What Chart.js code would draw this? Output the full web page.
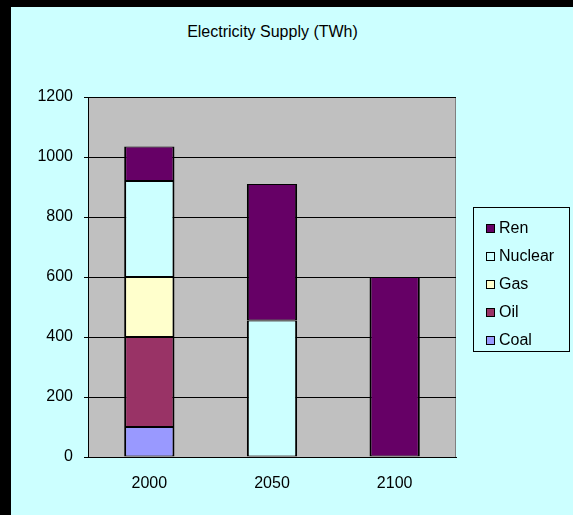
<!DOCTYPE html>
<html>
<head>
<meta charset="utf-8">
<script src="https://cdn.jsdelivr.net/npm/chart.js@4/dist/chart.umd.min.js"></script>
<style>
  html, body { margin: 0; padding: 0; background: #000; }
  body { width: 573px; height: 515px; position: relative; overflow: hidden; font-family: "Liberation Sans", Arial, sans-serif; }
  #panel { position: absolute; left: 11px; top: 7px; width: 562px; height: 508px; background: #ccffff; }
  #wrap { position: absolute; left: 0; top: 0; width: 573px; height: 515px; }
  #title { position: absolute; left: 172px; width: 201px; top: 23px; text-align: center; font-size: 16px; color: #000; white-space: nowrap; }
  #legend { position: absolute; left: 473px; top: 207px; width: 97px; height: 145px; border: 1px solid #000; box-sizing: border-box; padding-top: 6px; }
  .item { height: 28px; display: flex; align-items: center; font-size: 16px; color: #000; }
  .sw { width: 7px; height: 7px; border: 1px solid #000; margin-left: 12px; margin-right: 4px; }
</style>
</head>
<body>
<div id="panel"></div>
<div id="title">Electricity Supply (TWh)</div>
<div id="wrap"><canvas id="chart" width="573" height="515"></canvas></div>
<div id="legend"></div>
<script>
const years = ['2000', '2050', '2100'];
const coal = [100, null, null];
const oil = [300, null, null];
const gas = [200, null, null];
const nuclear = [320, 455, null];
const ren = [115, 455, 600];
const yTicks = [0, 200, 400, 600, 800, 1000, 1200];

const series = [
    { label: 'Coal', data: coal, color: '#9999ff' },
    { label: 'Oil', data: oil, color: '#993366' },
    { label: 'Gas', data: gas, color: '#ffffcc' },
    { label: 'Nuclear', data: nuclear, color: '#ccffff' },
    { label: 'Ren', data: ren, color: '#660066' }
];

// grey plot area with a thin grey frame on top and right
const plotBg = {
    id: 'plotBg',
    beforeDraw(chart) {
        const a = chart.chartArea, ctx = chart.ctx;
        ctx.save();
        ctx.fillStyle = '#c0c0c0';
        ctx.fillRect(a.left, a.top, a.right - a.left, a.bottom - a.top);
        ctx.strokeStyle = '#808080';
        ctx.lineWidth = 1;
        ctx.beginPath();
        ctx.moveTo(a.left, a.top + 0.5);
        ctx.lineTo(a.right - 0.5, a.top + 0.5);
        ctx.lineTo(a.right - 0.5, a.bottom);
        ctx.stroke();
        ctx.restore();
    }
};

const ctx = document.getElementById('chart').getContext('2d');
new Chart(ctx, {
    type: 'bar',
    data: {
        labels: years,
        datasets: series.map(s => ({
            label: s.label,
            data: s.data,
            backgroundColor: s.color,
            borderColor: '#000',
            borderWidth: { left: 2, right: 2, top: 1, bottom: 1 },
            borderSkipped: false,
            categoryPercentage: 1,
            barPercentage: 0.41
        }))
    },
    options: {
        responsive: false,
        animation: false,
        layout: { padding: { left: 0, right: 117, top: 97, bottom: 18 } },
        plugins: {
            legend: { display: false },
            tooltip: { enabled: false }
        },
        scales: {
            x: {
                stacked: true,
                afterFit: s => { s.height = 40; },
                grid: { display: false, drawTicks: false },
                border: { color: '#000', width: 1 },
                ticks: { color: '#000', font: { family: 'Liberation Sans', size: 16 }, padding: 17 }
            },
            y: {
                stacked: true,
                min: 0,
                max: 1200,
                afterFit: s => { s.width = 88; },
                afterBuildTicks: s => { s.ticks = yTicks.map(v => ({ value: v })); },
                grid: { color: '#000', lineWidth: 1, tickLength: 4 },
                border: { color: '#000', width: 1 },
                ticks: {
                    color: '#000',
                    font: { family: 'Liberation Sans', size: 16 },
                    padding: 11,
                    callback: v => String(v)
                }
            }
        }
    },
    plugins: [plotBg]
});

const legend = document.getElementById('legend');
series.slice().reverse().forEach(s => {
    const row = document.createElement('div');
    row.className = 'item';
    row.innerHTML = '<span class="sw" style="background:' + s.color + '"></span>' + s.label;
    legend.appendChild(row);
});
</script>
</body>
</html>
